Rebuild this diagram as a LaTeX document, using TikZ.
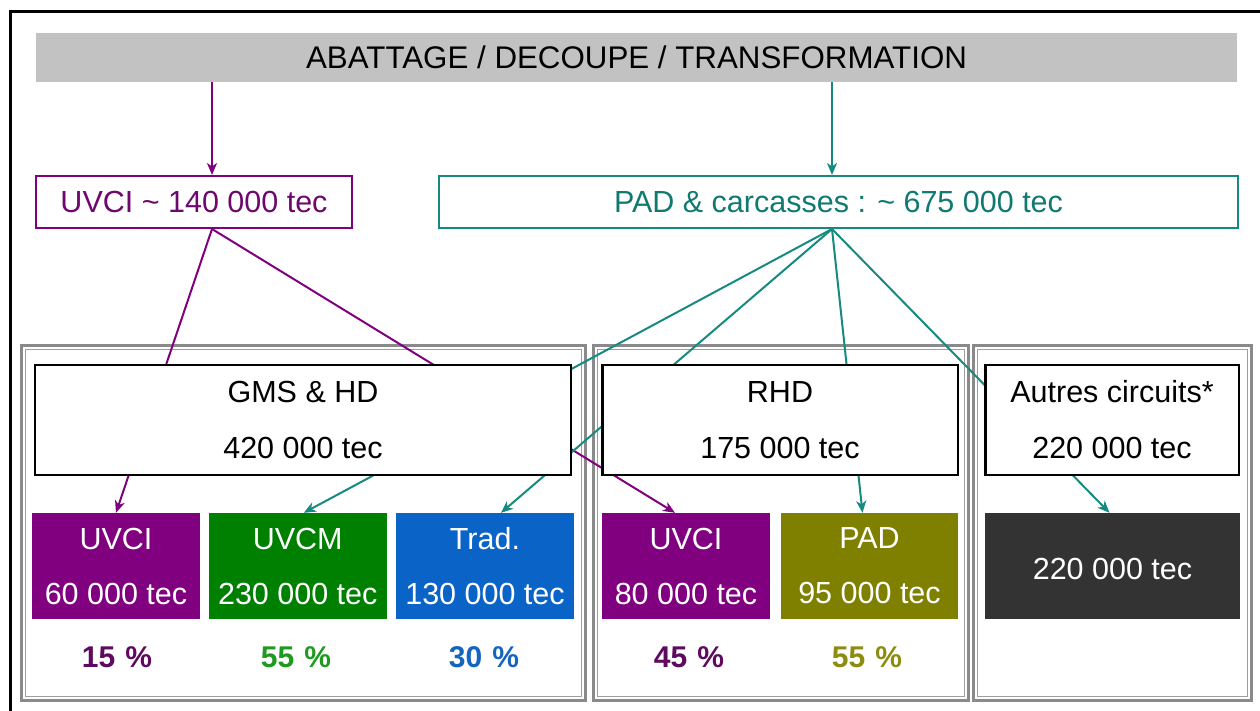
\documentclass[tikz,border=0pt]{standalone}
\usepackage{fontspec}
\setmainfont{Liberation Sans}
\usetikzlibrary{arrows.meta,calc}
\definecolor{cpurple}{HTML}{800080}
\definecolor{cpurpletxt}{HTML}{6E086E}
\definecolor{cpct}{HTML}{5E0A5E}
\definecolor{cgreen}{HTML}{008000}
\definecolor{cgreentxt}{HTML}{1E9A1E}
\definecolor{cblue}{HTML}{0A64C8}
\definecolor{cbluetxt}{HTML}{1464C0}
\definecolor{colive}{HTML}{808000}
\definecolor{colivetxt}{HTML}{8C8C10}
\definecolor{cdark}{HTML}{333333}
\definecolor{cteal}{HTML}{168A80}
\definecolor{ctealtxt}{HTML}{107A70}
\definecolor{cbar}{HTML}{C2C2C2}
\definecolor{csec}{HTML}{8A8A8A}
\definecolor{cseci}{HTML}{9E9E9E}
\pgfdeclarelayer{bg}
\pgfdeclarelayer{lines}
\pgfsetlayers{bg,lines,main}
\tikzset{
  txt/.style={font=\fontsize{30.5}{56}\selectfont, align=center},
  wbox/.style={txt, draw=black, line width=2.5pt, fill=white, inner sep=0pt, minimum height=110},
  cbox/.style={txt, text=white, inner sep=0pt, minimum height=106, font=\fontsize{30.5}{55}\selectfont},
  topbox/.style={txt, line width=2pt, fill=white, inner sep=0pt, minimum height=52},
  pct/.style={font=\fontsize{30}{36}\selectfont\bfseries},
  secouter/.style={draw=csec, line width=3pt},
  secinner/.style={draw=cseci, line width=1pt},
  conn/.style={line width=2pt},
  arr/.style={conn, -{Stealth[length=12pt,width=10pt,inset=3.5pt]}}
}
\begin{document}
\begin{tikzpicture}[x=1pt,y=-1pt]
\useasboundingbox (0,0) rectangle (1260,711);
% outer frame (left and top visible)
\draw[line width=3pt] (10,712) -- (10,12) -- (1261,12);

% section frames
\begin{pgfonlayer}{bg}
\draw[secouter] (21,345) rectangle (585,700);
\draw[secinner] (25,349) rectangle (581,696);
\draw[secouter] (593,345) rectangle (968,700);
\draw[secinner] (597,349) rectangle (964,696);
\draw[secouter] (973,345) rectangle (1251,700);
\draw[secinner] (977,349) rectangle (1247,696);
\end{pgfonlayer}

% header bar
\node[txt, font=\fontsize{31.3}{36}\selectfont, fill=cbar, inner sep=0pt, minimum width=1201, minimum height=49] (bar) at (636.5,57.5) {ABATTAGE / DECOUPE / TRANSFORMATION};

% top boxes
\node[topbox, draw=cpurple, text=cpurpletxt, minimum width=316] (uvci) at (194,202) {UVCI \textasciitilde{} 140 000 tec};
\node[topbox, draw=cteal, text=ctealtxt, minimum width=799] (padc) at (838.5,202) {PAD \& carcasses : \textasciitilde{} 675 000 tec};

% middle boxes
\node[wbox, minimum width=536] (gms) at (303,420) {GMS \& HD\\420 000 tec};
\node[wbox, minimum width=355.5] (rhd) at (780,420) {RHD\\175 000 tec};
\node[wbox, minimum width=253.5] (autres) at (1112,420) {Autres circuits*\\220 000 tec};

% coloured boxes
\node[cbox, fill=cpurple, minimum width=168] (uv1) at (116,566) {UVCI\\60 000 tec};
\node[cbox, fill=cgreen, minimum width=177.5] (uvcm) at (297.75,566) {UVCM\\230 000 tec};
\node[cbox, fill=cblue, minimum width=177.5] (trad) at (485,566) {Trad.\\130 000 tec};
\node[cbox, fill=cpurple, minimum width=167.5] (uv2) at (686,566) {UVCI\\80 000 tec};
\node[cbox, fill=colive, minimum width=177] (pad) at (869.5,566) {PAD\\95 000 tec};
\node[cbox, fill=cdark, minimum width=255, text height=26, text depth=-4] (dark) at (1112.5,566) {220 000 tec};

% percentages
\node[pct, text=cpct] (p1) at (117,657) {15\,\,\%};
\node[pct, text=cgreentxt] (p2) at (296,657) {55\,\,\%};
\node[pct, text=cbluetxt] (p3) at (484,657) {30\,\,\%};
\node[pct, text=cpct] (p4) at (689,657) {45\,\,\%};
\node[pct, text=colivetxt] (p5) at (867,657) {55\,\,\%};

% connector anchors
\coordinate (xa) at (212,0);
\coordinate (xb) at (832,0);

\begin{pgfonlayer}{lines}
\draw[arr, cpurple] (bar.south -| xa) -- (uvci.north -| xa);
\draw[arr, cteal] (bar.south -| xb) -- (padc.north -| xb);
\draw[arr, cpurple] (uvci.south -| xa) -- (uv1.north);
\draw[arr, cpurple] (uvci.south -| xa) -- ($(uv2.north)+(-11,0)$);
\draw[arr, cteal] (padc.south -| xb) -- ($(uvcm.north)+(6,0)$);
\draw[arr, cteal] (padc.south -| xb) -- ($(trad.north)+(16,0)$);
\draw[arr, cteal] (padc.south -| xb) -- ($(pad.north)+(-7,0)$);
\draw[arr, cteal] (padc.south -| xb) -- ($(dark.north)+(-3,0)$);
\end{pgfonlayer}
\end{tikzpicture}
\end{document}
